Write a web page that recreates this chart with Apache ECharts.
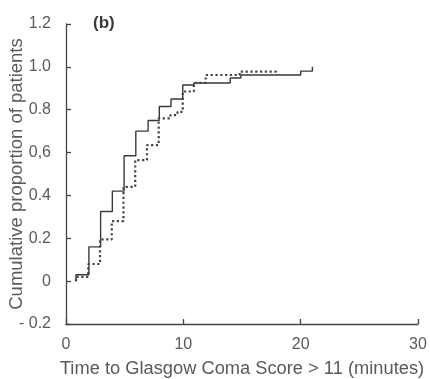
<!DOCTYPE html>
<html>
<head>
<meta charset="utf-8">
<script src="https://cdn.jsdelivr.net/npm/echarts@6/dist/echarts.min.js"></script>
<style>html,body{margin:0;padding:0;background:#fff;}#c{width:430px;height:379px;}</style>
</head>
<body>
<div id="c"></div>
<script>
// Kaplan-Meier style cumulative curves: [time (min), cumulative proportion]
var solidSeries = [[0.85,0],[0.85,0.03],[1.95,0.16],[2.95,0.325],[3.95,0.42],[4.95,0.585],[5.95,0.70],[7.0,0.75],[7.95,0.815],[8.95,0.85],[9.95,0.915],[10.9,0.925],[14.0,0.948],[14.9,0.962],[20.0,0.98],[21.0,1.0]];
var dottedSeries = [[0.85,0],[0.85,0.02],[1.9,0.08],[2.9,0.195],[3.9,0.28],[4.9,0.44],[5.9,0.565],[6.9,0.635],[7.9,0.76],[8.9,0.775],[9.5,0.79],[9.95,0.885],[10.9,0.925],[11.9,0.962],[14.8,0.978],[17.9,0.99]];
var yTickLabels = ['- 0.2','0','0.2','0.4','0,6','0.8','1.0','1.2'];
var xTickLabels = ['0','10','20','30'];
var panelLabel = '(b)';
var xTitle = 'Time to Glasgow Coma Score > 11 (minutes)';
var yTitle = 'Cumulative proportion of patients';

var FONT = '"Liberation Sans", Arial, Helvetica, sans-serif';
var TXT = '#5a5a5a';
var AX = '#444';
var chart = echarts.init(document.getElementById('c'), null, {renderer:'canvas'});
chart.setOption({
  animation:false,
  backgroundColor:'#fff',
  grid:{left:66, right:12, top:24, bottom:55, containLabel:false, outerBoundsMode:'none'},
  title:{text:panelLabel, left:88, top:10, textStyle:{fontFamily:FONT, fontWeight:'bold', fontSize:17, color:'#3a3a3a'}},
  xAxis:{type:'value', min:0, max:30, interval:10,
    name:xTitle, nameLocation:'middle', nameGap:36, nameMoveOverlap:false,
    nameTextStyle:{fontFamily:FONT, fontSize:18.3, color:TXT},
    axisLine:{show:true, onZero:false, lineStyle:{color:AX, width:1.3}},
    axisTick:{show:true, inside:true, length:5, lineStyle:{color:AX, width:1.3}},
    axisLabel:{margin:13, fontFamily:FONT, fontSize:16, color:TXT,
      formatter:function(v){return xTickLabels[Math.round(v/10)];}},
    splitLine:{show:false}},
  yAxis:{type:'value', min:-0.2, max:1.2, interval:0.2,
    name:yTitle, nameLocation:'middle', nameGap:40, nameMoveOverlap:false,
    nameTextStyle:{fontFamily:FONT, fontSize:18.5, color:TXT},
    axisLine:{show:true, onZero:false, lineStyle:{color:AX, width:1.3}},
    axisTick:{show:true, inside:true, length:5, lineStyle:{color:AX, width:1.3}},
    axisLabel:{margin:15, fontFamily:FONT, fontSize:16, color:TXT, padding:[0,0,6,0],
      formatter:function(v){return yTickLabels[Math.round((v+0.2)/0.2)];}},
    splitLine:{show:false}},
  series:[
    {type:'line', data:solidSeries, step:'end', showSymbol:false, symbol:'none',
     lineStyle:{color:'#3a3a3a', width:1.4}},
    {type:'line', data:dottedSeries, step:'end', showSymbol:false, symbol:'none',
     lineStyle:{color:'#444', width:2.2, type:[2.2,2.6], cap:'butt'}}
  ]
});
</script>
</body>
</html>
